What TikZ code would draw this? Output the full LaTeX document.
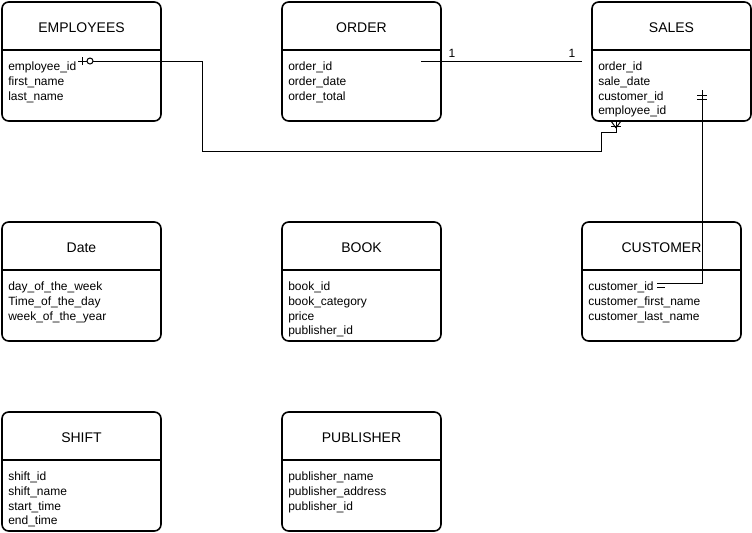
\documentclass[tikz,border=0pt]{standalone}
\usepackage{fontspec}
\setmainfont{Liberation Sans}
\usepackage{tikz}

\tikzset{
	entbox/.style={draw, line width=1.2pt, rounded corners=5pt, minimum width=119.25pt, minimum height=89.25pt, inner sep=0pt},
	entline/.style={line width=1.2pt},
	enttitle/.style={font=\fontsize{10.5}{12}\selectfont, inner sep=0pt},
	entfield/.style={font=\fontsize{9}{11}\selectfont, align=left, anchor=north west, inner sep=0pt},
	conn/.style={line width=0.75pt},
	connlabel/.style={font=\fontsize{9}{11}\selectfont, inner sep=0pt}
}

\begin{document}
\begin{tikzpicture}[x=0.75pt,y=-0.75pt]
				\useasboundingbox (0,0) rectangle (752,532);
				% entities, top row
				\node[entbox] (emp) at (81.5,61.5) {};
				\node[enttitle] (emptitle) at (81.5,27.5) {EMPLOYEES};
				\draw[entline] (2,50) -- (161,50);
				\node[entfield] (empfields) at (8,62) {employee\_id\\first\_name\\last\_name};
				\node[entbox] (ord) at (361.5,61.5) {};
				\node[enttitle] (ordtitle) at (361.5,27.5) {ORDER};
				\draw[entline] (282,50) -- (441,50);
				\node[entfield] (ordfields) at (288,62) {order\_id\\order\_date\\order\_total};
				\node[entbox] (sales) at (671.5,61.5) {};
				\node[enttitle] (salestitle) at (671.5,27.5) {SALES};
				\draw[entline] (592,50) -- (751,50);
				\node[entfield] (salesfields) at (598,62) {order\_id\\sale\_date\\customer\_id\\employee\_id};
				% middle row
				\node[entbox] (date) at (81.5,281.5) {};
				\node[enttitle] (datetitle) at (81.5,247.5) {Date};
				\draw[entline] (2,270) -- (161,270);
				\node[entfield] (datefields) at (8,282) {day\_of\_the\_week\\Time\_of\_the\_day\\week\_of\_the\_year};
				\node[entbox] (book) at (361.5,281.5) {};
				\node[enttitle] (booktitle) at (361.5,247.5) {BOOK};
				\draw[entline] (282,270) -- (441,270);
				\node[entfield] (bookfields) at (288,282) {book\_id\\book\_category\\price\\publisher\_id};
				\node[entbox] (cust) at (661.5,281.5) {};
				\node[enttitle] (custtitle) at (661.5,247.5) {CUSTOMER};
				\draw[entline] (582,270) -- (741,270);
				\node[entfield] (custfields) at (588,282) {customer\_id\\customer\_first\_name\\customer\_last\_name};
				% bottom row
				\node[entbox] (shift) at (81.5,471.5) {};
				\node[enttitle] (shifttitle) at (81.5,437.5) {SHIFT};
				\draw[entline] (2,460) -- (161,460);
				\node[entfield] (shiftfields) at (8,472) {shift\_id\\shift\_name\\start\_time\\end\_time};
				\node[entbox] (pub) at (361.5,471.5) {};
				\node[enttitle] (pubtitle) at (361.5,437.5) {PUBLISHER};
				\draw[entline] (282,460) -- (441,460);
				\node[entfield] (pubfields) at (288,472) {publisher\_name\\publisher\_address\\publisher\_id};
				% connector ends
				\coordinate (empid) at (78,61);
				\coordinate (salesfoot) at (616,121);
				\coordinate (ordid) at (421,61);
				\coordinate (salesord) at (582,61);
				\coordinate (salescust) at (702,90);
				\coordinate (custid) at (657,283);
				% employees -- sales
				\draw[conn] (empid) -- ++(124,0) -- ++(0,90) -- ++(399,0) -- ++(0,-19) -- ++(15,0) -- (salesfoot);
				\draw[conn] (82,57) -- (82,65);
				\draw[conn, fill=white] (90,61) circle (3);
				\draw[conn] (611,126) -- (621,126);
				\draw[conn] (616,128) -- (611,121);
				\draw[conn] (616,128) -- (621,121);
				% order -- sales
				\draw[conn] (ordid) -- (salesord);
				\node[connlabel] (ordone) at (452,53) {1};
				\node[connlabel] (salesone) at (572,53) {1};
				% sales -- customer
				\draw[conn] (salescust) |- (custid);
				\draw[conn] (697,95) -- (707,95);
				\draw[conn] (697,99) -- (707,99);
				\draw[conn] (657,287) -- (665,287);
			\end{tikzpicture}
\end{document}
